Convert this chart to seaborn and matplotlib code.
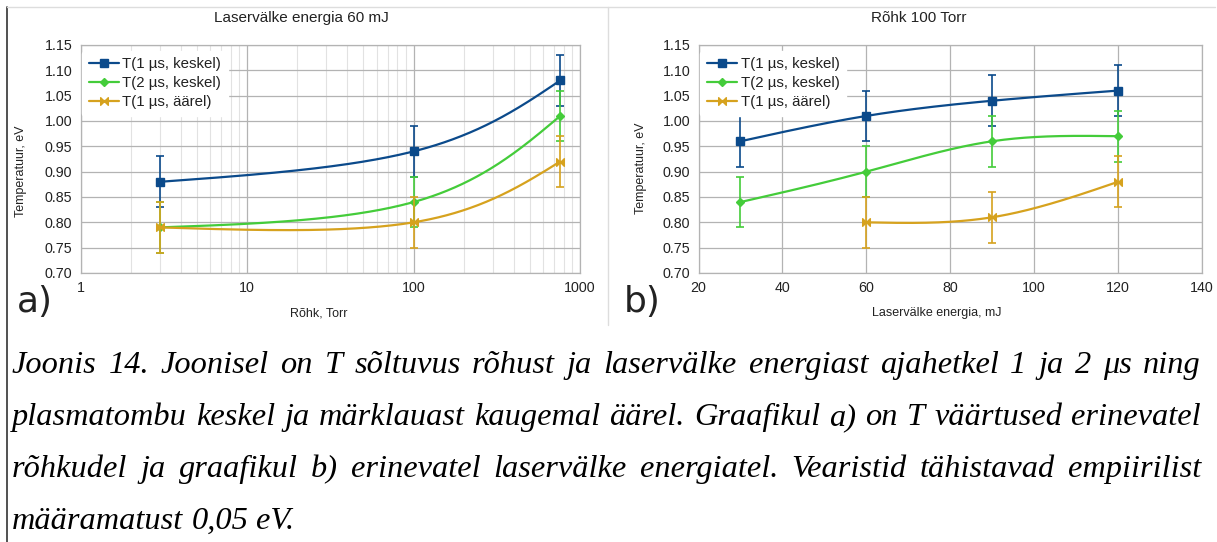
import numpy as np
import pandas as pd
import matplotlib
matplotlib.use("Agg")
import matplotlib.pyplot as plt
from matplotlib.path import Path
from matplotlib.lines import Line2D
import seaborn as sns

# data
series_names = ["T(1 µs, keskel)", "T(2 µs, keskel)", "T(1 µs, äärel)"]
series_colors = ["#0b4a8b", "#44cc3a", "#d6a21e"]

pressure = [3, 100, 760]  # Torr
t1_keskel_p = [0.88, 0.94, 1.08]
t2_keskel_p = [0.79, 0.84, 1.01]
t1_aarel_p = [0.79, 0.80, 0.92]

energy = [30, 60, 90, 120]  # mJ
t1_keskel_e = [0.96, 1.01, 1.04, 1.06]
t2_keskel_e = [0.84, 0.90, 0.96, 0.97]
t1_aarel_e = [np.nan, 0.80, 0.81, 0.88]

error = 0.05
y_ticks = [0.70, 0.75, 0.80, 0.85, 0.90, 0.95, 1.00, 1.05, 1.10, 1.15]

caption_lines = [
    "Joonis 14. Joonisel on T sõltuvus rõhust ja laservälke energiast ajahetkel 1 ja 2 μs ning",
    "plasmatombu keskel ja märklauast kaugemal äärel. Graafikul a) on T väärtused erinevatel",
    "rõhkudel ja graafikul b) erinevatel laservälke energiatel. Vearistid tähistavad empiirilist",
    "määramatust 0,05 eV.",
]

W, H = 1217, 542


def natural_spline(t, v, ts):
    # natural cubic spline v(t), evaluated at ts
    t = np.asarray(t, float)
    v = np.asarray(v, float)
    k = len(t)
    h = np.diff(t)
    A = np.zeros((k, k))
    b = np.zeros(k)
    A[0, 0] = A[-1, -1] = 1
    for i in range(1, k - 1):
        A[i, i - 1] = h[i - 1]
        A[i, i] = 2 * (h[i - 1] + h[i])
        A[i, i + 1] = h[i]
        b[i] = 3 * ((v[i + 1] - v[i]) / h[i] - (v[i] - v[i - 1]) / h[i - 1])
    c = np.linalg.solve(A, b)
    idx = np.clip(np.searchsorted(t, ts) - 1, 0, k - 2)
    dt = ts - t[idx]
    bb = (v[idx + 1] - v[idx]) / h[idx] - h[idx] * (2 * c[idx] + c[idx + 1]) / 3
    d = (c[idx + 1] - c[idx]) / (3 * h[idx])
    return v[idx] + bb * dt + c[idx] * dt ** 2 + d * dt ** 3


def smooth_curve(x, y, n=300):
    # parametric spline over the point index, as the office chart tool draws it
    t = np.arange(len(x))
    ts = np.linspace(0, len(x) - 1, n)
    return natural_spline(t, x, ts), natural_spline(t, y, ts)


bowtie = Path([(-1, -1), (1, 1), (1, -1), (-1, 1), (-1, -1)],
              [Path.MOVETO, Path.LINETO, Path.LINETO, Path.LINETO, Path.CLOSEPOLY])
markers = ["s", "D", bowtie]
msizes = [5.5, 3.8, 5.5]

sns.set_style("white")
plt.rcParams["font.family"] = ["Liberation Sans", "DejaVu Sans"]
plt.rcParams["text.color"] = "#222222"

fig = plt.figure(figsize=(W / 100, H / 100), dpi=100)


def px_ax(x0, x1, y0, y1):
    return fig.add_axes([x0 / W, 1 - y1 / H, (x1 - x0) / W, (y1 - y0) / H])


def style_axes(ax):
    ax.set_ylim(0.70, 1.15)
    ax.set_yticks(y_ticks)
    ax.set_yticklabels([f"{v:.2f}" for v in y_ticks])
    ax.grid(True, which="major", color="#b3b3b3", linewidth=0.9)
    for s in ax.spines.values():
        s.set_color("#b3b3b3")
        s.set_linewidth(0.9)
    ax.tick_params(which="major", direction="out", length=4, width=0.9, color="#b3b3b3",
                   labelsize=10.3, labelcolor="#222222", pad=2)
    ax.set_axisbelow(True)


def draw_series(ax, xvals, series, logx=False):
    for name, yv, col, mk, ms in zip(series_names, series, series_colors, markers, msizes):
        df = pd.DataFrame({"x": xvals, "y": yv}).dropna()
        if logx:
            lx, ly = smooth_curve(np.log10(df["x"].values), df["y"].values)
            lx = 10 ** lx
        else:
            lx, ly = smooth_curve(df["x"].values, df["y"].values)
        sns.lineplot(x=lx, y=ly, ax=ax, color=col, linewidth=1.6, sort=False,
                     estimator=None, legend=False)
        ax.errorbar(df["x"], df["y"], yerr=error, fmt="none", ecolor=col,
                    elinewidth=1.2, capsize=3, capthick=1.2)
        ax.plot(df["x"], df["y"], linestyle="none", marker=mk, markersize=ms,
                color=col, markeredgecolor=col)


def add_legend(ax):
    handles = [Line2D([0], [0], color=c, marker=m, markersize=s, linewidth=1.6)
               for c, m, s in zip(series_colors, markers, msizes)]
    leg = ax.legend(handles, series_names, loc="upper left", fontsize=10.8, frameon=True,
                    handlelength=2.0, handletextpad=0.25, labelspacing=0.33,
                    borderpad=0.45, bbox_to_anchor=(0.003, 0.975), borderaxespad=0)
    leg.get_frame().set_facecolor("white")
    leg.get_frame().set_edgecolor("white")
    leg.get_frame().set_alpha(1)


# a) pressure dependence
ax1 = px_ax(80.5, 580, 45, 273)
ax1.set_xscale("log")
ax1.set_xlim(1, 1000)
draw_series(ax1, pressure, [t1_keskel_p, t2_keskel_p, t1_aarel_p], logx=True)
style_axes(ax1)
ax1.set_xticks([1, 10, 100, 1000])
ax1.set_xticklabels(["1", "10", "100", "1000"])
ax1.grid(True, which="minor", axis="x", color="#e2e2e2", linewidth=0.8)
ax1.tick_params(which="minor", length=0)
add_legend(ax1)

# b) energy dependence
ax2 = px_ax(698.5, 1202, 45, 273)
ax2.set_xlim(20, 140)
draw_series(ax2, energy, [t1_keskel_e, t2_keskel_e, t1_aarel_e])
style_axes(ax2)
ax2.set_xticks([20, 40, 60, 80, 100, 120, 140])
add_legend(ax2)

# titles, axis labels and panel letters
fig.text(301 / W, 1 - 18 / H, "Laservälke energia 60 mJ", ha="center", va="center", fontsize=11)
fig.text(919 / W, 1 - 18 / H, "Rõhk 100 Torr", ha="center", va="center", fontsize=11)
fig.text(319 / W, 1 - 313 / H, "Rõhk, Torr", ha="center", va="center", fontsize=9)
fig.text(937 / W, 1 - 313 / H, "Laservälke energia, mJ", ha="center", va="center", fontsize=9)
fig.text(21 / W, 1 - 171 / H, "Temperatuur, eV", ha="center", va="center", rotation=90, fontsize=9)
fig.text(641 / W, 1 - 168 / H, "Temperatuur, eV", ha="center", va="center", rotation=90, fontsize=9)
fig.text(17 / W, 1 - 312 / H, "a)", ha="left", va="baseline", fontsize=26, family="DejaVu Sans")
fig.text(624 / W, 1 - 312 / H, "b)", ha="left", va="baseline", fontsize=26, family="DejaVu Sans")

# frame lines of the embedded picture
fig.add_artist(Line2D([7 / W, 7 / W], [1 - 7 / H, 0], color="#333333", linewidth=1.2))
fig.add_artist(Line2D([7 / W, 1215 / W], [1 - 7 / H, 1 - 7 / H], color="#dddddd", linewidth=1))
fig.add_artist(Line2D([608 / W, 608 / W], [1 - 7 / H, 1 - 325 / H], color="#dddddd", linewidth=1))

# justified caption
left_px, right_px = 12, 1201
baselines = [373, 425, 477, 529]
renderer = fig.canvas.get_renderer()
for i, (line, base) in enumerate(zip(caption_lines, baselines)):
    words = line.split(" ")
    texts = [fig.text(0, 1 - base / H, w, fontsize=23.3, style="italic",
                      family=["Liberation Serif", "DejaVu Serif"], color="black",
                      va="baseline", ha="left") for w in words]
    widths = [t.get_window_extent(renderer).width for t in texts]
    if i < len(caption_lines) - 1:
        gap = (right_px - left_px - sum(widths)) / (len(words) - 1)
    else:
        gap = texts[0].get_fontsize() * 0.25 * 100 / 72
    x = left_px
    for t, w in zip(texts, widths):
        t.set_x(x / W)
        x += w + gap

fig.savefig("out.png", dpi=100)
